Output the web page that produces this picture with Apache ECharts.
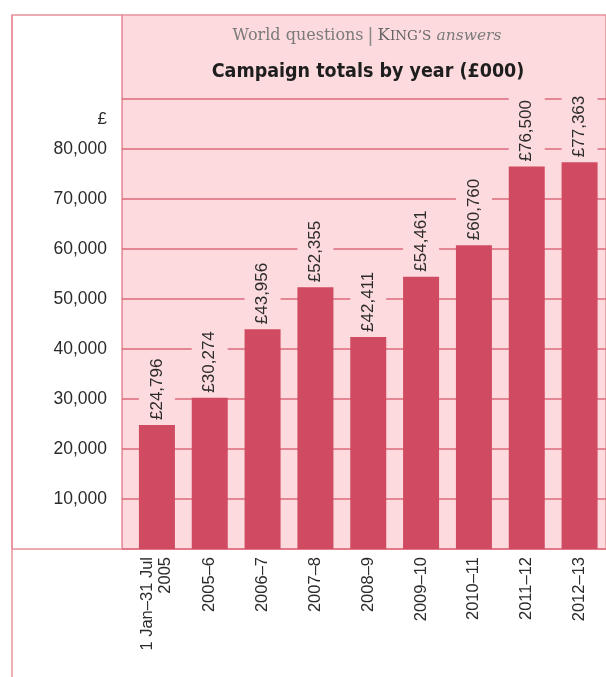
<!DOCTYPE html>
<html>
<head>
<meta charset="utf-8">
<style>
  html, body { margin: 0; padding: 0; background: #ffffff; }
  #chart { width: 606px; height: 677px; }
</style>
<script src="https://cdn.jsdelivr.net/npm/echarts@6/dist/echarts.min.js"></script>
</head>
<body>
<div id="chart"></div>
<script>
// Campaign totals per period, in £000
const categories = ['1 Jan\u201331 Jul\n2005', '2005\u20136', '2006\u20137', '2007\u20138', '2008\u20139',
                    '2009\u201310', '2010\u201311', '2011\u201312', '2012\u201313'];
const totals = [24796, 30274, 43956, 52355, 42411, 54461, 60760, 76500, 77363];
const yMin = 0;
const yMax = 90000;
const yStep = 10000;

const SANS = '"Liberation Sans", Arial, sans-serif';
const HEAVY = '"DejaVu Sans Condensed", "DejaVu Sans", sans-serif';
const SERIF = '"DejaVu Serif", "Liberation Serif", serif';
const PINK = '#fddadd';
const BAR = '#d04a62';
const RULE = '#dc6a7d';
const EDGE = '#e8909c';
const INK = '#2b2b2b';

const fmt = v => v.toLocaleString('en-GB');

const chart = echarts.init(document.getElementById('chart'), null, { renderer: 'canvas' });

chart.setOption({
  animation: false,
  backgroundColor: '#ffffff',
  graphic: [
    { type: 'rect', z: -100, shape: { x: 122, y: 15, width: 484, height: 534 },
      style: { fill: PINK, stroke: EDGE, lineWidth: 1.5 } },
    { type: 'rect', z: -100, shape: { x: 12, y: 15, width: 110, height: 534 },
      style: { fill: '#ffffff', stroke: EDGE, lineWidth: 1.5 } },
    { type: 'line', z: -100, shape: { x1: 12, y1: 15, x2: 12, y2: 677 },
      style: { stroke: EDGE, lineWidth: 1.5 } },
    { type: 'text', z: 10, x: 367, y: 36,
      style: {
        text: '{w|World questions}{bar|\u2009|\u2009}{k|K}{c|ING\u2019S}{w| }{i|answers}',
        align: 'center', verticalAlign: 'middle',
        rich: {
          w: { fontFamily: SERIF, fontSize: 16, fill: '#7a7a7a', color: '#7a7a7a' },
          bar: { fontFamily: SERIF, fontSize: 19, fill: '#8a8a8a', color: '#8a8a8a' },
          k: { fontFamily: SERIF, fontSize: 16.5, fill: '#666666', color: '#666666' },
          c: { fontFamily: SERIF, fontSize: 13.5, fill: '#666666', color: '#666666' },
          i: { fontFamily: SERIF, fontSize: 15.5, fontStyle: 'italic', fill: '#7a7a7a', color: '#7a7a7a' }
        }
      } },
    { type: 'text', z: 10, x: 368, y: 72,
      style: { text: 'Campaign totals by year (\u00a3000)', align: 'center', verticalAlign: 'middle',
               fontFamily: HEAVY, fontSize: 19.5, fontWeight: 'bold', fill: '#1e1e1e' } }
  ],
  grid: [
    { left: 122, right: 0, top: 99, bottom: 128 },
    { left: 130.5, right: -1.5, top: 99, bottom: 128 }
  ],
  xAxis: [
    { type: 'value', gridIndex: 0, show: false, min: 0, max: 1 },
    { type: 'category', gridIndex: 1, data: categories,
      axisLine: { show: false }, axisTick: { show: false },
      axisLabel: { interval: 0, rotate: 90, margin: 8, color: INK,
                   fontFamily: SANS, fontSize: 16.5, lineHeight: 18 } }
  ],
  yAxis: [
    { type: 'value', gridIndex: 0, min: yMin, max: yMax, interval: yStep,
      name: '\u00a3', nameLocation: 'end', nameGap: -29,
      nameTextStyle: { align: 'right', padding: [0, 15, 0, 0], color: INK,
                       fontFamily: SANS, fontSize: 17 },
      axisLine: { show: false }, axisTick: { show: false },
      axisLabel: { margin: 15, color: INK, fontFamily: SANS, fontSize: 17.5,
                   showMinLabel: false, showMaxLabel: false, formatter: v => fmt(v) },
      splitLine: { show: true, lineStyle: { color: RULE, width: 1.5 } } },
    { type: 'value', gridIndex: 1, min: yMin, max: yMax, interval: yStep, show: false,
      splitLine: { show: false } }
  ],
  series: [{
    type: 'bar',
    xAxisIndex: 1, yAxisIndex: 1,
    data: totals,
    barWidth: 36,
    itemStyle: { color: BAR },
    label: {
      show: true, position: 'top', rotate: 90, distance: 2,
      align: 'left', verticalAlign: 'middle',
      formatter: p => '\u00a3' + fmt(p.value),
      color: INK, fontFamily: SANS, fontSize: 17, lineHeight: 19,
      backgroundColor: PINK, padding: [8.5, 3, 8.5, 3]
    }
  }]
});
</script>
</body>
</html>
